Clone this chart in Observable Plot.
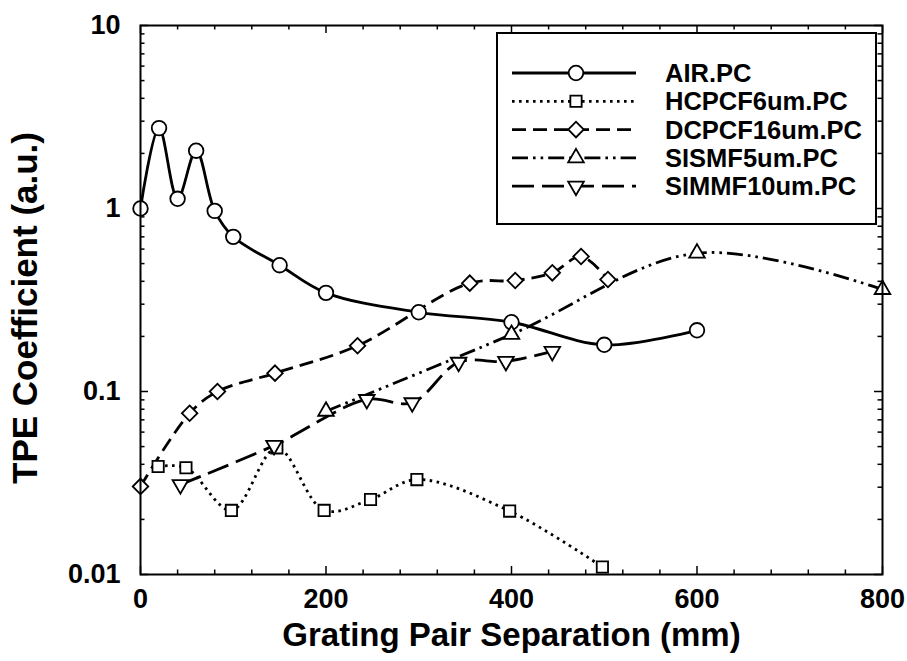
<!DOCTYPE html>
<html><head><meta charset="utf-8">
<script src="https://cdn.jsdelivr.net/npm/d3@7"></script>
<script src="https://cdn.jsdelivr.net/npm/@observablehq/plot@0.6"></script>
<style>body{margin:0;background:#fff}</style>
</head><body><div id="chart"></div>
<script>
// ---- data ----
const seriesNames = ["AIR.PC", "HCPCF6um.PC", "DCPCF16um.PC", "SISMF5um.PC", "SIMMF10um.PC"];
const airX = [0, 20, 40, 60, 80, 100, 150, 200, 300, 400, 500, 600];
const airY = [1.0, 2.75, 1.13, 2.07, 0.97, 0.70, 0.49, 0.346, 0.271, 0.239, 0.180, 0.216];
const hcX = [19, 49, 98, 147, 198, 248, 298, 398, 498];
const hcY = [0.0389, 0.0383, 0.0224, 0.0492, 0.0224, 0.0257, 0.033, 0.0222, 0.011];
const dcX = [0, 53, 83, 145, 234, 355, 404, 444, 475, 504];
const dcY = [0.0303, 0.076, 0.100, 0.126, 0.178, 0.391, 0.404, 0.445, 0.547, 0.409];
const ssX = [200, 400, 600, 800];
const ssY = [0.078, 0.205, 0.57, 0.361];
const smX = [43, 144, 244, 293, 343, 394, 444];
const smY = [0.031, 0.0507, 0.0904, 0.0868, 0.1445, 0.146, 0.1655];
const xTickLabels = [0, 200, 400, 600, 800];
const yTickLabels = [0.01, 0.1, 1, 10];
const xLabel = "Grating Pair Separation (mm)";
const yLabel = "TPE Coefficient (a.u.)";

const seriesXY = [[airX, airY], [hcX, hcY], [dcX, dcY], [ssX, ssY], [smX, smY]];
const rows = seriesXY.flatMap(([xs, ys], i) => xs.map((x, j) => ({series: seriesNames[i], x, y: ys[j]})));

// ---- styles ----
const styles = {
  "AIR.PC":       {symbol: "circle",   r: 7.3, rotate: 0,   dash: null},
  "HCPCF6um.PC":  {symbol: "square",   r: 3.6, rotate: 0,   dash: "2.6,4.4"},
  "DCPCF16um.PC": {symbol: "square",   r: 3.5, rotate: 45,  dash: "14,7"},
  "SISMF5um.PC":  {symbol: "triangle", r: 5.8, rotate: 0,   dash: "16,5,2.6,5,2.6,5"},
  "SIMMF10um.PC": {symbol: "triangle", r: 5.8, rotate: 180, dash: "22,8"}
};
const W = 907, H = 661, mL = 140, mR = 25, mT = 25, mB = 87;
const pw = W - mL - mR, ph = H - mT - mB;

const xMajor = d3.range(0, 801, 200);
const xMinor = d3.range(0, 801, 40).filter(v => v % 200 !== 0);
const yMajor = [0.01, 0.1, 1, 10];
const yMinor = [];
for (const p of [0.01, 0.1, 1]) for (let k = 2; k <= 9; k++) yMinor.push(+(p * k).toPrecision(3));

const MAJ = 8, MIN = 4.5;
const tickStyle = {stroke: "black", strokeWidth: 1.5};

const marks = [];
marks.push(Plot.tickX(xMajor, {x: d => d, insetTop: ph - MAJ, ...tickStyle}));
marks.push(Plot.tickX(xMinor, {x: d => d, insetTop: ph - MIN, ...tickStyle}));
marks.push(Plot.tickX(xMajor, {x: d => d, insetBottom: ph - MAJ, ...tickStyle}));
marks.push(Plot.tickX(xMinor, {x: d => d, insetBottom: ph - MIN, ...tickStyle}));
marks.push(Plot.tickY(yMajor, {y: d => d, insetRight: pw - MAJ, ...tickStyle}));
marks.push(Plot.tickY(yMinor, {y: d => d, insetRight: pw - MIN, ...tickStyle}));
marks.push(Plot.tickY(yMajor, {y: d => d, insetLeft: pw - MAJ, ...tickStyle}));
marks.push(Plot.tickY(yMinor, {y: d => d, insetLeft: pw - MIN, ...tickStyle}));

for (const name of seriesNames) {
  const s = styles[name];
  const data = rows.filter(d => d.series === name);
  marks.push(Plot.line(data, {x: "x", y: "y", curve: "catmull-rom", stroke: "black", strokeWidth: 2.8,
    strokeDasharray: s.dash, strokeLinecap: "butt"}));
}
for (const name of seriesNames) {
  const s = styles[name];
  const data = rows.filter(d => d.series === name);
  const r = s.symbol === "square" ? s.r * 1.77 : s.r;
  marks.push(Plot.dot(data, {x: "x", y: "y", symbol: s.symbol, r, rotate: s.rotate, fill: "white", stroke: "black", strokeWidth: 1.8}));
}
marks.push(Plot.frame({stroke: "black", strokeWidth: 2}));
marks.push(Plot.axisX(xTickLabels, {tickSize: 0, tickPadding: 14, fontSize: 27, fontWeight: "bold", label: null}));
marks.push(Plot.axisY(yTickLabels, {tickSize: 0, tickPadding: 20, fontSize: 27, fontWeight: "bold", label: null, tickFormat: d => String(d)}));
marks.push(Plot.text([xLabel], {text: d => d, frameAnchor: "bottom", dy: 61, fontSize: 33, fontWeight: "bold", lineAnchor: "middle", textAnchor: "middle"}));
marks.push(Plot.text([yLabel], {text: d => d, frameAnchor: "left", dx: -115, dy: 8, rotate: -90, fontSize: 35, fontWeight: "bold", lineAnchor: "middle", textAnchor: "middle"}));

const plot = Plot.plot({
  width: W, height: H,
  marginLeft: mL, marginRight: mR, marginTop: mT, marginBottom: mB,
  style: {fontFamily: "'Liberation Sans', Arial, sans-serif", fontWeight: "bold", background: "white", color: "black"},
  x: {type: "linear", domain: [0, 800], axis: null},
  y: {type: "log", domain: [0.01, 10], axis: null},
  marks
});

// ---- legend (inside the plot area, top right) ----
const svg = d3.select(plot);
const lg = svg.append("g");
const bx = 497, by = 33, bw = 379, bh = 191;
lg.append("rect").attr("x", bx).attr("y", by).attr("width", bw).attr("height", bh)
  .attr("fill", "white").attr("stroke", "black").attr("stroke-width", 2);
const symMap = {circle: d3.symbolCircle, square: d3.symbolSquare, triangle: d3.symbolTriangle};
seriesNames.forEach((name, i) => {
  const s = styles[name];
  const cy = 73 + i * 28.3;
  lg.append("line").attr("x1", 512).attr("x2", 636).attr("y1", cy).attr("y2", cy)
    .attr("stroke", "black").attr("stroke-width", 2.8)
    .attr("stroke-dasharray", s.dash).attr("stroke-linecap", "butt");
  const r = s.symbol === "square" ? s.r * 1.77 : s.r;
  lg.append("path").attr("d", d3.symbol(symMap[s.symbol], r * r * Math.PI)())
    .attr("transform", `translate(576,${cy}) rotate(${s.rotate})`)
    .attr("fill", "white").attr("stroke", "black").attr("stroke-width", 1.8);
  lg.append("text").attr("x", 665).attr("y", cy).attr("dy", "0.35em")
    .attr("text-anchor", "start")
    .attr("font-size", 25.5).attr("font-weight", "bold").attr("fill", "black").text(name);
});

document.getElementById("chart").appendChild(plot);
</script>
</body></html>
